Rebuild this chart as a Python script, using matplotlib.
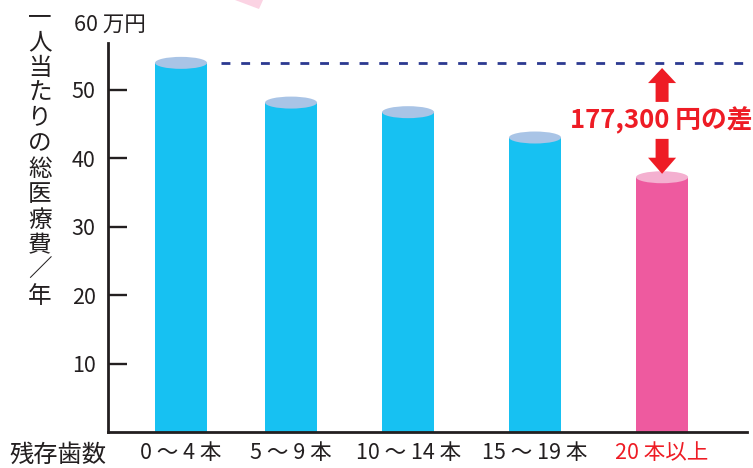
import matplotlib
matplotlib.use("Agg")
import matplotlib.pyplot as plt
from matplotlib.patches import Ellipse, FancyArrow, Polygon

plt.rcParams['font.family'] = ['Noto Sans CJK JP', 'DejaVu Sans']

# data
groups = ["0 ～ 4 本", "5 ～ 9 本", "10 ～ 14 本", "15 ～ 19 本", "20 本以上"]
cost = [53.9, 48.1, 46.7, 43.0, 37.2]   # 万円
diff_label = "177,300 円の差"
yticks = [10, 20, 30, 40, 50]

# layout (slot positions of the bars, not evenly spaced in the original)
xpos = [0.0, 1.0, 2.064, 3.218, 4.373]
bw = 0.473
cap_h = 1.75

blue, blue_top = "#17c1f2", "#a9c4e6"
pink, pink_top = "#ee5a9f", "#f4b0d0"
red = "#ee1c25"
ink = "#231f20"

W, H = 753, 468
fig = plt.figure(figsize=(W / 100, H / 100), dpi=100)
ax = fig.add_axes([108 / W, 1 - 432 / H, (747 - 108) / W, (432 - 43) / H])

colors = [blue] * 4 + [pink]
tops = [blue_top] * 4 + [pink_top]
ax.bar(xpos, cost, width=bw, color=colors, zorder=2)
for x, v, c in zip(xpos, cost, tops):
    ax.add_patch(Ellipse((x, v), bw, cap_h, facecolor=c, edgecolor="none", zorder=3))

# reference line at the top bar
ax.plot([xpos[0] + 0.364, 5.2], [cost[0], cost[0]], color="#2b3990", lw=2.0,
        linestyle=(0, (3.2, 3.9)), dash_capstyle="butt", clip_on=False, zorder=2)

# difference arrows + label
xa = xpos[-1]
mid = (cost[0] + cost[-1]) / 2
up_base, up_tip = mid + 2.65, cost[0] - 0.75
dn_base, dn_tip = mid - 2.75, cost[-1] + 0.5
ax.add_patch(FancyArrow(xa, up_base, 0, up_tip - up_base, width=0.118, head_width=0.255,
                        head_length=2.2, length_includes_head=True, color=red, lw=0, zorder=4))
ax.add_patch(FancyArrow(xa, dn_base, 0, dn_tip - dn_base, width=0.118, head_width=0.255,
                        head_length=2.35, length_includes_head=True, color=red, lw=0, zorder=4))
ax.text(xa - 0.01, mid, diff_label, color=red, fontsize=18.5, fontweight="bold",
        ha="center", va="center", zorder=5, clip_on=False)

ax.set_xlim(-0.664, 5.145)
ax.set_ylim(0, 56.8)
ax.set_yticks(yticks)
ax.set_yticklabels([str(t) for t in yticks])
ax.set_xticks(xpos)
ax.set_xticklabels(groups)

for s in ["top", "right"]:
    ax.spines[s].set_visible(False)
for s in ["left", "bottom"]:
    ax.spines[s].set_linewidth(2.0)
    ax.spines[s].set_color(ink)
ax.tick_params(axis="y", direction="in", length=13.7, width=1.7, color=ink,
               labelsize=15.5, labelcolor=ink, pad=9)
ax.tick_params(axis="x", length=0, labelsize=15.5, labelcolor=ink, pad=7)
ax.get_xticklabels()[-1].set_color(red)

# unit label, axis titles
fig.text(74 / W, 1 - 25 / H, "60 万円", fontsize=15.5, color=ink, ha="left", va="center")
fig.text(40 / W, 1 - 6 / H, "\n".join("一人当たりの総医療費／年"), fontsize=17, color=ink,
         ha="center", va="top", linespacing=1.13)
fig.text(58 / W, 1 - 455 / H, "残存歯数", fontsize=17.5, color=ink, ha="center", va="center")

# pink decoration at the top edge
fig.patches.append(Polygon([(235 / W, 1.0), (263 / W, 1.0), (259 / W, 1 - 9 / H)],
                           closed=True, transform=fig.transFigure, facecolor="#fbd3e3",
                           edgecolor="none"))

fig.savefig("out.png", dpi=100)
